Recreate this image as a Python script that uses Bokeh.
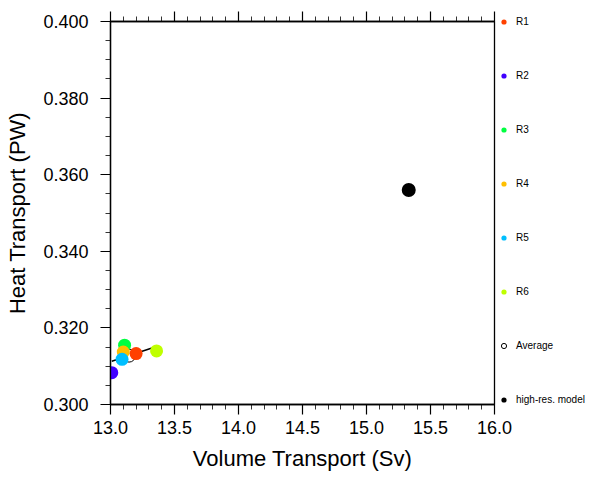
import numpy as np
from bokeh.plotting import figure
from bokeh.models import (LinearAxis, Legend, LegendItem, SingleIntervalTicker,
                          NumeralTickFormatter, Range1d, CustomLabelingPolicy)
from bokeh.embed import file_html
from bokeh.resources import INLINE

# ---- data ----
names = ["R1", "R2", "R3", "R4", "R5", "R6"]
volume = [13.20, 13.01, 13.11, 13.10, 13.09, 13.36]
heat = [0.3133, 0.3083, 0.3155, 0.3137, 0.3118, 0.3140]
colors = ["#ff4000", "#4000ff", "#00ff40", "#ffbf00", "#00bfff", "#bfff00"]
draw_order = [1, 2, 3, 0, 4, 5]
hires_volume = [15.33]
hires_heat = [0.356]

FONT = "Liberation Sans"

p = figure(frame_width=384, frame_height=383, output_backend="svg", toolbar_location=None,
           x_range=Range1d(13.0, 16.0), y_range=Range1d(0.30, 0.40),
           min_border_left=110, min_border_right=96, min_border_top=21,
           min_border_bottom=74, x_axis_location=None, y_axis_location=None)
p.xgrid.visible = False
p.ygrid.visible = False
p.outline_line_color = "black"
p.outline_line_width = 1.3
p.background_fill_color = "white"
p.border_fill_color = "white"

def style_axis(ax):
    ax.axis_line_color = "black"
    ax.axis_line_width = 1.3
    ax.major_tick_line_color = "black"
    ax.minor_tick_line_color = "black"
    ax.major_tick_line_width = 1.2
    ax.minor_tick_line_width = 0.8
    ax.major_tick_out = 10
    ax.major_tick_in = 0
    ax.minor_tick_out = 5
    ax.minor_tick_in = 0
    ax.major_label_text_font = FONT
    ax.major_label_text_font_size = "18px"
    ax.major_label_text_color = "black"
    ax.axis_label_text_font = FONT
    ax.axis_label_text_font_size = "22px"
    ax.axis_label_text_font_style = "normal"
    ax.axis_label_text_color = "black"

xb = LinearAxis(ticker=SingleIntervalTicker(interval=0.5, num_minor_ticks=5),
                formatter=NumeralTickFormatter(format="0.0"),
                axis_label="Volume Transport (Sv)")
style_axis(xb)
xb.major_label_standoff = 6
xb.axis_label_standoff = 9
p.add_layout(xb, "below")

xt = LinearAxis(ticker=SingleIntervalTicker(interval=0.5, num_minor_ticks=5),
                major_label_policy=CustomLabelingPolicy(code="return []"))
style_axis(xt)
xt.major_label_text_font_size = "1px"
xt.major_label_standoff = 0
p.add_layout(xt, "above")

yl = LinearAxis(ticker=SingleIntervalTicker(interval=0.02, num_minor_ticks=4),
                formatter=NumeralTickFormatter(format="0.000"),
                axis_label="Heat Transport (PW)")
style_axis(yl)
yl.major_label_standoff = 12
yl.axis_label_standoff = 10
p.add_layout(yl, "left")

# regression line through R1..R6
coef = np.polyfit(volume, heat, 1)
lx = np.array([min(volume), max(volume)])
ly = np.polyval(coef, lx)
p.line(lx, ly, line_color="black", line_width=1.5)

# average (hollow)
avg = p.scatter([float(np.mean(volume))], [float(np.mean(heat))], size=13,
                fill_color="white", line_color="black", line_width=1)

rend = {}
for i in draw_order:
    rend[i] = p.scatter([volume[i]], [heat[i]], size=13, fill_color=colors[i],
                        line_color=None)
hr = p.scatter(hires_volume, hires_heat, size=14, fill_color="black", line_color=None)

items = [LegendItem(label=names[i], renderers=[rend[i]]) for i in range(6)]
items.append(LegendItem(label="Average", renderers=[avg]))
items.append(LegendItem(label="high-res. model", renderers=[hr]))

legend = Legend(items=items, location=(3, -7), orientation="vertical",
                padding=0, margin=0, spacing=30, label_height=24,
                glyph_height=13, glyph_width=13, label_standoff=6,
                border_line_color=None, background_fill_alpha=0,
                label_text_font=FONT, label_text_font_size="10px",
                label_text_color="black")
p.add_layout(legend, "right")

open("out.html", "w").write(file_html(p, INLINE))
